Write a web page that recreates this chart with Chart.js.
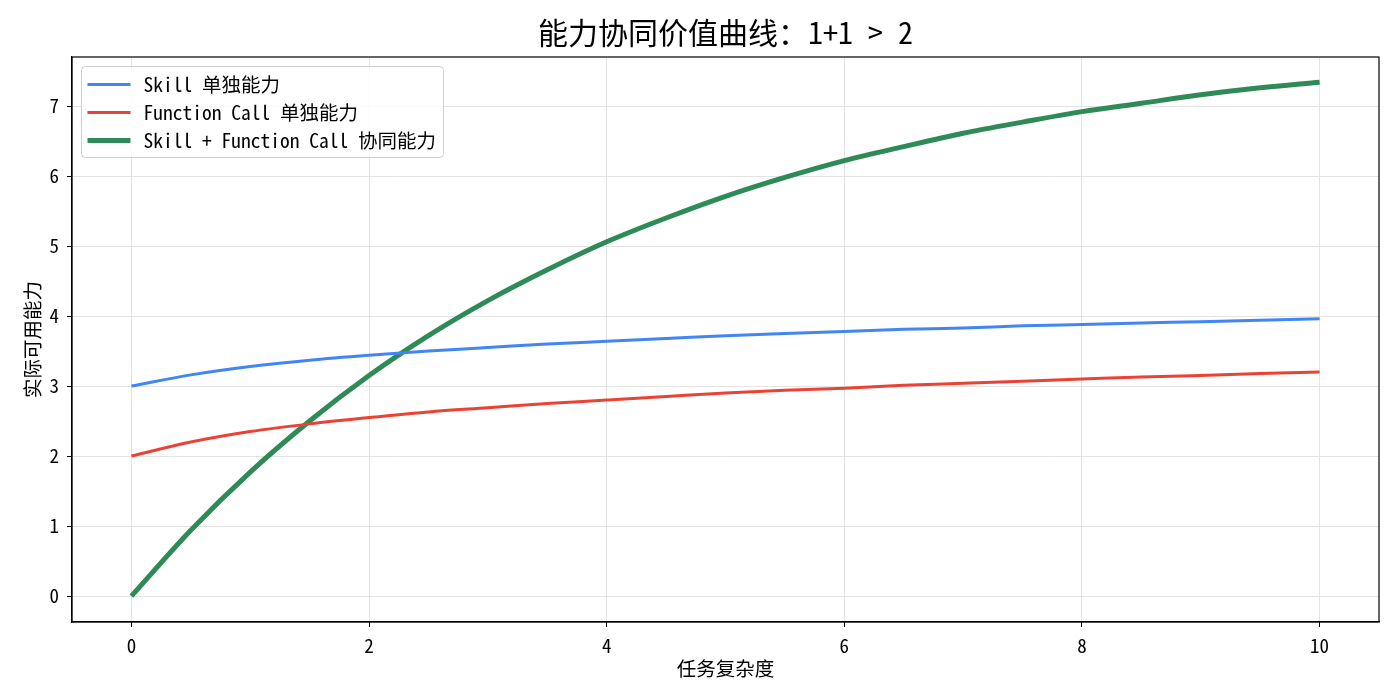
<!DOCTYPE html>
<html>
<head>
<meta charset="utf-8">
<script src="https://cdn.jsdelivr.net/npm/chart.js@4"></script>
<style>
  html, body { margin: 0; padding: 0; background: #fff; }
</style>
</head>
<body>
<canvas id="chartSynergy" width="1400" height="700"></canvas>
<script>
// 能力协同价值曲线 — values

var complexity = [0, 0.5, 1, 1.5, 2, 2.5, 3, 3.5, 4, 4.5, 5, 5.5, 6, 6.5, 7, 7.5, 8, 8.5, 9, 9.5, 10];

var skillOnly = [3.00, 3.16, 3.28, 3.37, 3.44, 3.50, 3.55, 3.60, 3.64, 3.68, 3.72,
                 3.75, 3.78, 3.81, 3.83, 3.86, 3.88, 3.90, 3.92, 3.94, 3.96];

var functionOnly = [2.00, 2.20, 2.35, 2.46, 2.55, 2.63, 2.69, 2.75, 2.80, 2.85, 2.90,
                    2.94, 2.97, 3.01, 3.04, 3.07, 3.10, 3.13, 3.15, 3.18, 3.20];

var synergy = [0.00, 0.94, 1.77, 2.50, 3.15, 3.72, 4.22, 4.66, 5.06, 5.40, 5.71,
               5.98, 6.22, 6.42, 6.61, 6.77, 6.92, 7.04, 7.16, 7.26, 7.34];

var seriesLabels = ['Skill 单独能力', 'Function Call 单独能力', 'Skill + Function Call 协同能力'];
var xTicks = [0, 2, 4, 6, 8, 10];
var yTicks = [0, 1, 2, 3, 4, 5, 6, 7];

var FONT = "'Noto Sans Mono CJK SC', 'Noto Sans CJK SC', sans-serif";

function toPoints(values) {
    return values.map(function (v, i) { return { x: complexity[i], y: v }; });
}

// frame around the plot + legend box in the upper left corner
var framePlugin = {
    id: 'frame',
    afterDraw: function (chart) {
        var ctx = chart.ctx;
        var a = chart.chartArea;
        ctx.save();
        ctx.strokeStyle = '#000';
        ctx.lineWidth = 1.2;
        ctx.strokeRect(a.left, a.top, a.right - a.left, a.bottom - a.top);

        // legend
        var bx = a.left + 9.5, by = a.top + 9.5, bw = 362, bh = 91, r = 4;
        ctx.beginPath();
        ctx.moveTo(bx + r, by);
        ctx.arcTo(bx + bw, by, bx + bw, by + bh, r);
        ctx.arcTo(bx + bw, by + bh, bx, by + bh, r);
        ctx.arcTo(bx, by + bh, bx, by, r);
        ctx.arcTo(bx, by, bx + bw, by, r);
        ctx.closePath();
        ctx.fillStyle = 'rgba(255,255,255,0.85)';
        ctx.fill();
        ctx.strokeStyle = '#d0d0d0';
        ctx.lineWidth = 1;
        ctx.stroke();

        ctx.font = '19.5px ' + FONT;
        ctx.textBaseline = 'middle';
        ctx.fillStyle = '#000';
        chart.data.datasets.forEach(function (ds, i) {
            var y = by + 18 + i * 28;
            ctx.beginPath();
            ctx.moveTo(bx + 6, y);
            ctx.lineTo(bx + 49, y);
            ctx.strokeStyle = ds.borderColor;
            ctx.lineWidth = ds.borderWidth;
            ctx.stroke();
            ctx.fillText(ds.label, bx + 62, y);
        });
        ctx.restore();
    }
};

new Chart(document.getElementById('chartSynergy'), {
    type: 'line',
    data: {
        datasets: [{
            label: seriesLabels[0],
            data: toPoints(skillOnly),
            borderColor: '#4285F4',
            borderWidth: 3,
            pointRadius: 0,
            cubicInterpolationMode: 'monotone'
        }, {
            label: seriesLabels[1],
            data: toPoints(functionOnly),
            borderColor: '#EA4335',
            borderWidth: 3,
            pointRadius: 0,
            cubicInterpolationMode: 'monotone'
        }, {
            label: seriesLabels[2],
            data: toPoints(synergy),
            borderColor: '#2E8B57',
            borderWidth: 5,
            pointRadius: 0,
            cubicInterpolationMode: 'monotone'
        }]
    },
    options: {
        responsive: false,
        animation: false,
        layout: { padding: { left: 0, right: 21, top: 0, bottom: 0 } },
        plugins: {
            legend: { display: false },
            tooltip: { enabled: false },
            title: {
                display: true,
                text: '能力协同价值曲线：1+1 > 2',
                fullSize: false,
                color: '#000',
                font: { family: FONT, size: 30, weight: 'normal' },
                padding: { top: 15, bottom: 6 }
            }
        },
        scales: {
            x: {
                type: 'linear',
                min: -0.5,
                max: 10.5,
                afterBuildTicks: function (scale) {
                    scale.ticks = xTicks.map(function (v) { return { value: v }; });
                },
                afterFit: function (scale) { scale.height = 78; },
                grid: { color: '#e4e4e4', tickColor: '#000', tickLength: 5, lineWidth: 1 },
                border: { display: true, color: '#000', width: 1.2 },
                ticks: { color: '#000', padding: 7, maxRotation: 0, font: { family: FONT, size: 19 } },
                title: {
                    display: true,
                    text: '任务复杂度',
                    color: '#000',
                    font: { family: FONT, size: 19.5 },
                    padding: { top: 0, bottom: 20 }
                }
            },
            y: {
                type: 'linear',
                min: -0.37,
                max: 7.7,
                afterBuildTicks: function (scale) {
                    scale.ticks = yTicks.map(function (v) { return { value: v }; });
                },
                afterFit: function (scale) { scale.width = 72; },
                grid: { color: '#e4e4e4', tickColor: '#000', tickLength: 5, lineWidth: 1 },
                border: { display: true, color: '#000', width: 1.2 },
                ticks: { color: '#000', padding: 8, font: { family: FONT, size: 19 } },
                title: {
                    display: true,
                    text: '实际可用能力',
                    color: '#000',
                    font: { family: FONT, size: 19.5 },
                    padding: { top: 21, bottom: 0 }
                }
            }
        }
    },
    plugins: [framePlugin]
});
</script>
</body>
</html>
